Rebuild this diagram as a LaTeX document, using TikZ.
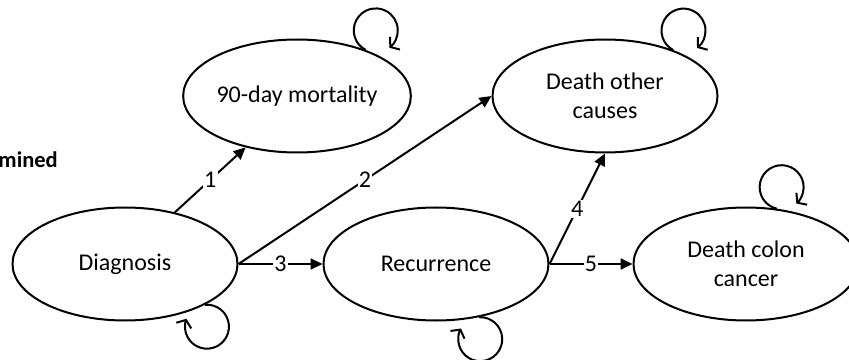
\documentclass[tikz,border=0pt]{standalone}
\usepackage{fontspec}
\setmainfont{Carlito}
\usetikzlibrary{shapes.geometric,arrows.meta}
\begin{document}
\begin{tikzpicture}[x=1pt,y=1pt,
  state/.style={ellipse,draw,line width=2pt,minimum width=225pt,minimum height=113pt,inner sep=0pt,align=center,font=\fontsize{24}{29}\selectfont},
  conn/.style={line width=2pt,-{Triangle[length=12pt,width=11pt]}},
  lbl/.style={fill=white,inner sep=1.2pt,font=\fontsize{24}{29}\selectfont},
  selfloop/.style={line width=2pt,-{Straight Barb[length=6pt,width=16pt]}}]
\useasboundingbox (0,0) rectangle (849,359);
\clip (0,0) rectangle (849,359);
\node[state] (mort) at (297,263) {90-day mortality};
\node[state] (other) at (605,263) {Death other\\causes};
\node[state] (diag) at (125,95) {Diagnosis};
\node[state] (rec) at (436,95) {Recurrence};
\node[state] (colon) at (746,95) {Death colon\\cancer};
\node[anchor=base east,inner sep=0pt,font=\fontsize{22.5}{26}\selectfont\bfseries] (cut) at (58,191) {mined};
% transitions
\draw[conn] (diag.46) -- node[lbl]{1} (mort.225);
\draw[conn] (diag.east) -- node[lbl]{2} (other.west);
\draw[conn] (diag.east) -- node[lbl]{3} (rec.west);
\draw[conn] (rec.east) -- node[lbl]{4} (other.south);
\draw[conn] (rec.east) -- node[lbl]{5} (colon.west);
% self loops
\draw[selfloop] (mort.34) arc[start angle=242,end angle=-52,radius=22];
\draw[selfloop] (other.34) arc[start angle=242,end angle=-52,radius=22];
\draw[selfloop] (colon.61) arc[start angle=257,end angle=-48,radius=22];
\draw[selfloop] (diag.-27) arc[start angle=95,end angle=-201,radius=22];
\draw[selfloop] (rec.-51) arc[start angle=93,end angle=-209,radius=22];
\end{tikzpicture}
\end{document}
